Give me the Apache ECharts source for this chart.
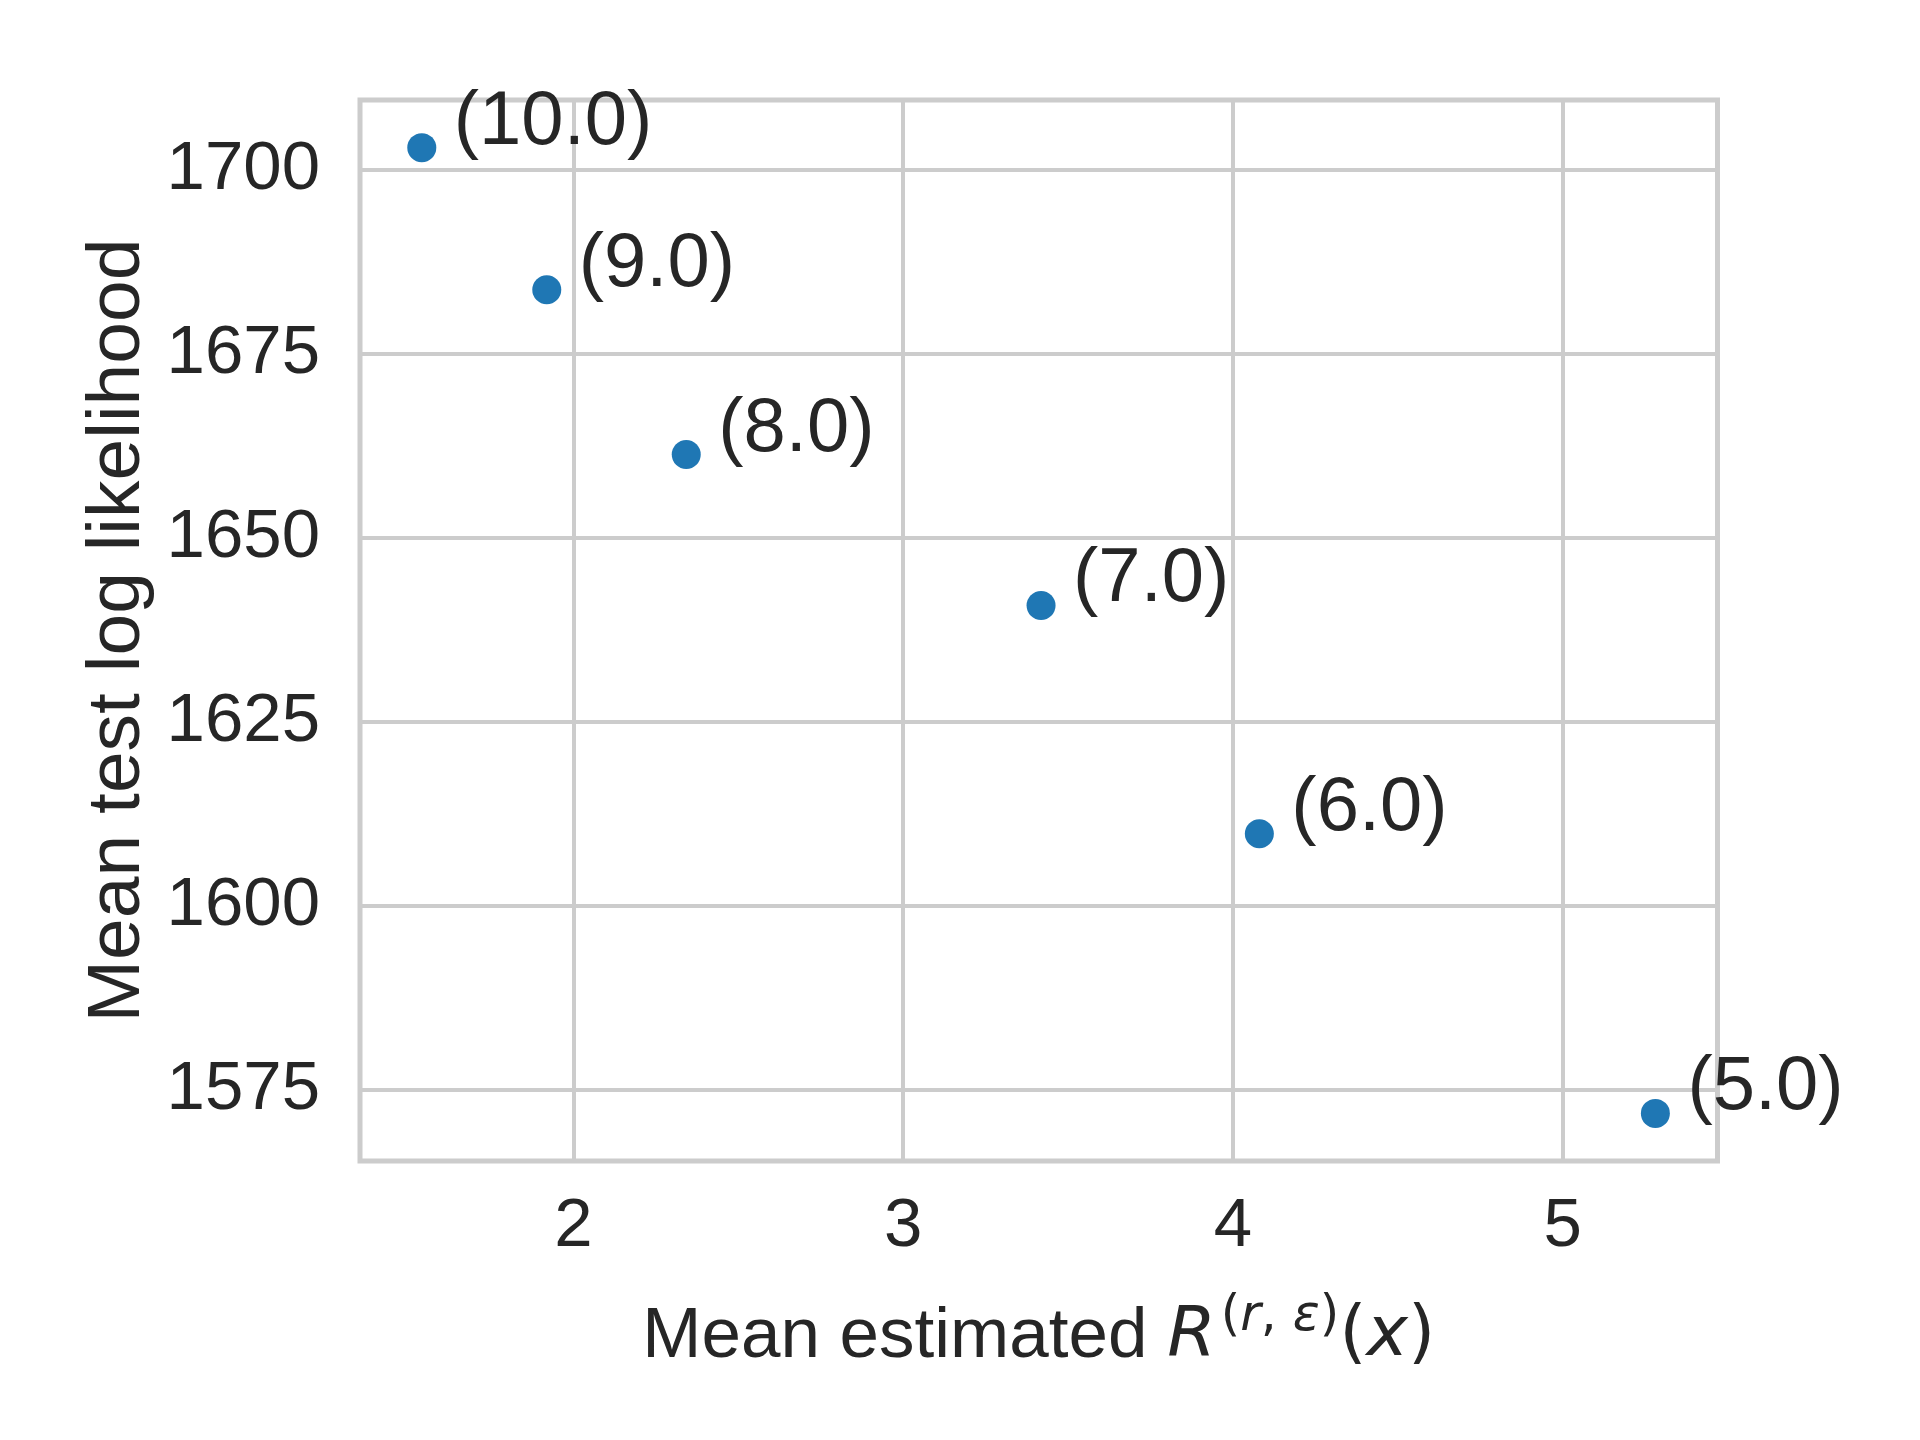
<!DOCTYPE html>
<html>
<head>
<meta charset="utf-8">
<script src="https://cdn.jsdelivr.net/npm/echarts@6/dist/echarts.min.js"></script>
<style>
  html, body { margin: 0; padding: 0; background: #ffffff; }
  #chart { width: 1920px; height: 1440px; }
</style>
</head>
<body>
<div id="chart"></div>
<script>
// values
const meanR = [1.540, 1.919, 2.342, 3.418, 4.080, 5.281];
const meanLogLik = [1703.0, 1683.7, 1661.3, 1640.8, 1609.8, 1571.8];
const pointLabels = ['(10.0)', '(9.0)', '(8.0)', '(7.0)', '(6.0)', '(5.0)'];

const textColor = '#262626';
const gridColor = '#cccccc';
const sans = "'Liberation Sans', Arial, sans-serif";
const mathFont = "'DejaVu Sans', sans-serif";

const chart = echarts.init(document.getElementById('chart'));

const points = meanR.map((x, i) => ({
    value: [x, meanLogLik[i]],
    label: { formatter: pointLabels[i] }
}));

const option = {
    backgroundColor: '#ffffff',
    animation: false,
    grid: {
        left: 360,
        top: 100,
        width: 1357.5,
        height: 1061,
        show: true,
        borderColor: gridColor,
        borderWidth: 5,
        backgroundColor: 'transparent'
    },
    xAxis: {
        type: 'value',
        min: 1.3526,
        max: 5.4694,
        minInterval: 1,
        maxInterval: 1,
        axisLine: { show: false },
        axisTick: { show: false },
        axisLabel: {
            color: textColor,
            fontFamily: sans,
            fontSize: 69,
            margin: 31,
            showMinLabel: false,
            showMaxLabel: false,
            formatter: (v) => String(v)
        },
        splitLine: { show: true, lineStyle: { color: gridColor, width: 4 } },
        name: '{t|Mean estimated }{mi|R}{sp0|(}{si|r}{sp|,}{si| ε}{sp|)}{m|(}{mi|x}{m|)}',
        nameLocation: 'middle',
        nameGap: 131,
        nameTextStyle: {
            color: textColor,
            rich: {
                t: { fontFamily: sans, fontSize: 71, color: textColor },
                m: { fontFamily: mathFont, fontSize: 70, color: textColor },
                mi: { fontFamily: mathFont, fontSize: 70, fontStyle: 'italic', color: textColor },
                sp0: { fontFamily: mathFont, fontSize: 50, color: textColor, padding: [0, 0, 40, 5] },
                sp: { fontFamily: mathFont, fontSize: 50, color: textColor, padding: [0, 0, 40, 0] },
                si: { fontFamily: mathFont, fontSize: 50, fontStyle: 'italic', color: textColor, padding: [0, 0, 40, 0] }
            }
        }
    },
    yAxis: {
        type: 'value',
        min: 1565.33,
        max: 1709.47,
        minInterval: 25,
        maxInterval: 25,
        axisLine: { show: false },
        axisTick: { show: false },
        axisLabel: {
            color: textColor,
            fontFamily: sans,
            fontSize: 69,
            margin: 40,
            showMinLabel: false,
            showMaxLabel: false,
            formatter: (v) => String(v)
        },
        splitLine: { show: true, lineStyle: { color: gridColor, width: 4 } },
        name: 'Mean test log likelihood',
        nameLocation: 'middle',
        nameGap: 202,
        nameTextStyle: { color: textColor, fontFamily: sans, fontSize: 75 }
    },
    series: [
        {
            type: 'scatter',
            data: points,
            symbol: 'circle',
            symbolSize: 29,
            itemStyle: { color: '#1f77b4', opacity: 1 },
            label: {
                show: true,
                position: [46.5, -10.5],
                align: 'left',
                verticalAlign: 'middle',
                color: textColor,
                fontFamily: sans,
                fontSize: 76
            },
            emphasis: { disabled: true }
        }
    ]
};

chart.setOption(option);
</script>
</body>
</html>
